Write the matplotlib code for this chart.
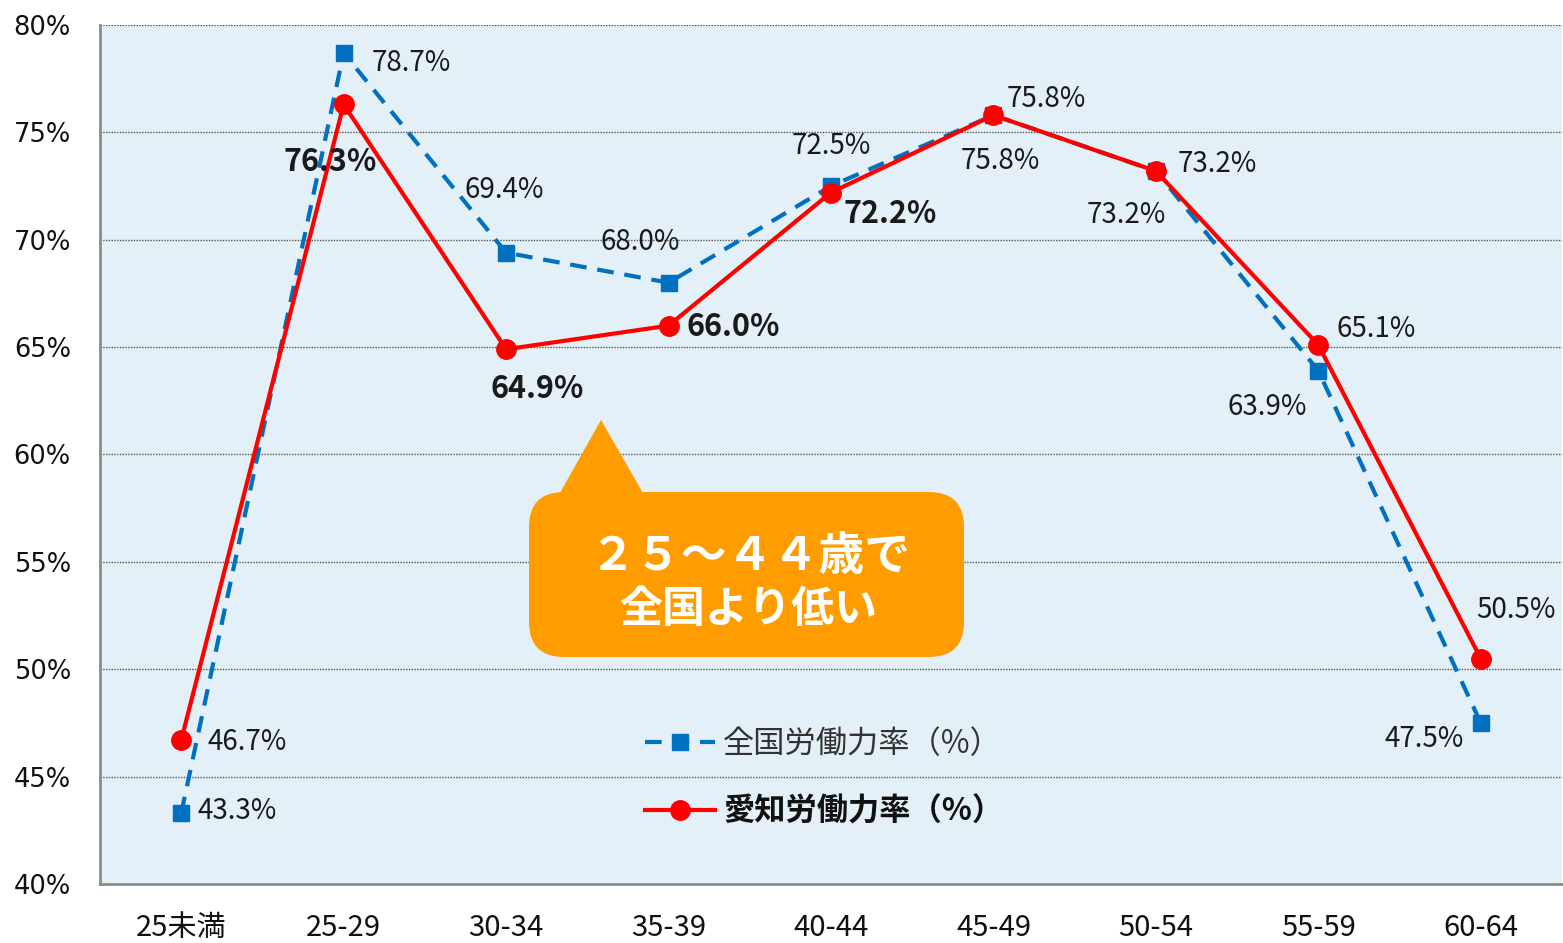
import matplotlib
matplotlib.use("Agg")
import matplotlib.pyplot as plt
from matplotlib.patches import FancyBboxPatch, Polygon

plt.rcParams['font.family'] = ['Noto Sans CJK JP', 'DejaVu Sans']

categories = ['25未満', '25-29', '30-34', '35-39', '40-44', '45-49', '50-54', '55-59', '60-64']
national = [43.3, 78.7, 69.4, 68.0, 72.5, 75.8, 73.2, 63.9, 47.5]
aichi = [46.7, 76.3, 64.9, 66.0, 72.2, 75.8, 73.2, 65.1, 50.5]
yticks = [40, 45, 50, 55, 60, 65, 70, 75, 80]
label_national = '全国労働力率（%）'
label_aichi = '愛知労働力率（%）'
callout_lines = ['２５～４４歳で', '全国より低い']

# label offsets in pixels (dx, dy) and alignment
nat_off = [(16, 2, 'left'), (28, -10, 'left'), (-2, 63, 'center'), (-28, 41, 'center'),
           (0, 40, 'center'), (13, 16, 'left'), (-30, -44, 'center'), (-51, -36, 'center'),
           (-57, -16, 'center')]
aic_off = [(26, -2, 'left'), (-13, -58, 'center'), (31, -40, 'center'), (18, -1, 'left'),
           (59, -21, 'center'), (7, -46, 'center'), (22, 7, 'left'), (18, 16, 'left'),
           (35, 49, 'center')]
aic_bold = [False, True, True, True, True, False, False, False, False]

fig = plt.figure(figsize=(15.63, 9.43), dpi=100)
ax = fig.add_axes([100/1563, 1-884/943, 1462/1563, 859/943])
ax.set_facecolor('#E3F0F7')

x = list(range(len(categories)))
ax.plot(x, national, color='#0070C0', lw=3, dashes=(4, 2.6), marker='s', markersize=12,
        markerfacecolor='#0070C0', markeredgecolor='#0070C0', zorder=3, label=label_national)
ax.plot(x, aichi, color='#FF0000', lw=3, marker='o', markersize=14,
        markerfacecolor='#FF0000', markeredgecolor='#FF0000', zorder=4, label=label_aichi)

ax.set_xlim(-0.5, len(categories) - 0.5)
ax.set_ylim(40, 80)
ax.set_yticks(yticks)
ax.set_yticklabels([f'{v}%' for v in yticks], fontfamily='DejaVu Sans', fontsize=18.5, color='#111111')
ax.set_xticks(x)
ax.set_xticklabels(categories, fontsize=21, color='#111111')
ax.tick_params(axis='y', length=0, pad=21)
ax.tick_params(axis='x', length=0, pad=21)

for yv in yticks[1:]:
    ax.axhline(yv, color='#555555', lw=1, ls=(0, (1, 1)), zorder=1)

for s in ['top', 'right']:
    ax.spines[s].set_visible(False)
for s in ['left', 'bottom']:
    ax.spines[s].set_color('#8C8C8C')
    ax.spines[s].set_linewidth(2)

for i, v in enumerate(national):
    dx, dy, ha = nat_off[i]
    ax.annotate(f'{v:.1f}%', (i, v), xytext=(dx, dy), textcoords='offset pixels',
                ha=ha, va='center', fontsize=20, color='#1a1a1a', zorder=6)
for i, v in enumerate(aichi):
    dx, dy, ha = aic_off[i]
    ax.annotate(f'{v:.1f}%', (i, v), xytext=(dx, dy), textcoords='offset pixels',
                ha=ha, va='center', fontsize=22 if aic_bold[i] else 20,
                fontweight='bold' if aic_bold[i] else 'normal', color='#1a1a1a', zorder=6)

# callout
orange = '#FF9C00'
x0, x1 = (529-100)/1462, (964-100)/1462
y0, y1 = (884-657)/859, (884-492)/859
box = FancyBboxPatch((x0, y0), x1-x0, y1-y0, boxstyle='round,pad=0,rounding_size=0.024',
                     mutation_aspect=1462/859, transform=ax.transAxes, facecolor=orange,
                     edgecolor='none', zorder=5)
ax.add_patch(box)
tri = Polygon([((556-100)/1462, (884-500)/859), ((601-100)/1462, (884-420)/859),
               ((647-100)/1462, (884-500)/859)], closed=True, transform=ax.transAxes,
              facecolor=orange, edgecolor='none', zorder=5)
ax.add_patch(tri)
ax.text((750-100)/1462, (884-557)/859, callout_lines[0], transform=ax.transAxes, ha='center',
        va='center', fontsize=33, fontweight='bold', color='white', zorder=7)
ax.text((748-100)/1462, (884-609)/859, callout_lines[1], transform=ax.transAxes, ha='center',
        va='center', fontsize=31, fontweight='bold', color='white', zorder=7)

leg = ax.legend(loc='center left', bbox_to_anchor=((645-100)/1462, (884-778)/859),
                frameon=False, fontsize=22.5, handlelength=2.25, handletextpad=0.25,
                labelspacing=1.15, borderpad=0, borderaxespad=0)
texts = leg.get_texts()
texts[0].set_color('#333333')
texts[1].set_color('#111111')
texts[1].set_fontweight('bold')

fig.savefig('out.png', dpi=100)
